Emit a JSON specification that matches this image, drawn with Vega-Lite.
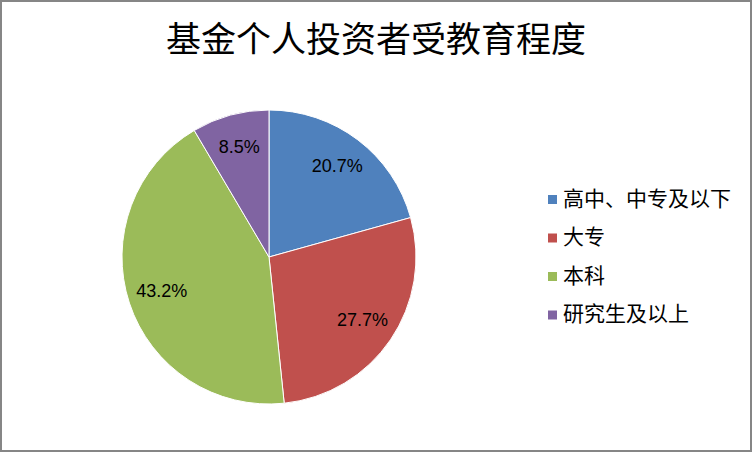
{
  "$schema": "https://vega.github.io/schema/vega-lite/v6.json",
  "autosize": {"type": "fit", "contains": "padding"},
  "width": 752,
  "height": 452,
  "padding": 1,
  "background": "white",
  "view": {"stroke": "#868686", "strokeWidth": 2},
  "title": {
    "text": "基金个人投资者受教育程度",
    "font": "Noto Sans CJK SC",
    "fontSize": 35,
    "fontWeight": "normal",
    "color": "black",
    "anchor": "middle",
    "offset": -58
  },
  "data": {
    "values": [
      {"level": "高中、中专及以下", "idx": 1, "share": 0.207},
      {"level": "大专", "idx": 2, "share": 0.277},
      {"level": "本科", "idx": 3, "share": 0.432},
      {"level": "研究生及以上", "idx": 4, "share": 0.085}
    ]
  },
  "encoding": {
    "theta": {"field": "share", "type": "quantitative", "stack": true},
    "order": {"field": "idx", "type": "quantitative"}
  },
  "layer": [
    {
      "mark": {"type": "arc", "x": 268, "y": 256, "outerRadius": 147, "stroke": "white", "strokeWidth": 1},
      "encoding": {
        "color": {
          "field": "level",
          "type": "nominal",
          "scale": {
            "domain": ["高中、中专及以下", "大专", "本科", "研究生及以上"],
            "range": ["#4F81BD", "#C0504D", "#9BBB59", "#8064A2"]
          },
          "legend": {
            "title": null,
            "orient": "none",
            "legendX": 541,
            "legendY": 188,
            "symbolType": "square",
            "symbolSize": 81,
            "symbolStrokeWidth": 0,
            "labelFont": "Noto Sans CJK SC",
            "labelFontSize": 21,
            "labelColor": "black",
            "labelOffset": 0,
            "rowPadding": 16.5,
            "labelLimit": 300
          }
        }
      }
    },
    {
      "mark": {"type": "text", "x": 268, "y": 256, "radius": 113, "font": "Liberation Sans", "fontSize": 18, "color": "black"},
      "encoding": {
        "text": {"field": "share", "type": "quantitative", "format": ".1%"}
      }
    }
  ]
}
